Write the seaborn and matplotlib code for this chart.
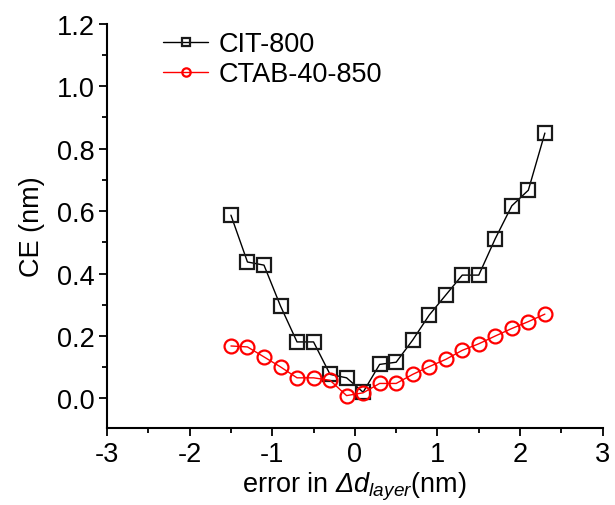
import numpy as np
import pandas as pd
import matplotlib
matplotlib.use("Agg")
import matplotlib.pyplot as plt
import seaborn as sns
from matplotlib.ticker import MultipleLocator

# Data
x_vals = [-1.5, -1.3, -1.1, -0.9, -0.7, -0.5, -0.3, -0.1, 0.1, 0.3,
          0.5, 0.7, 0.9, 1.1, 1.3, 1.5, 1.7, 1.9, 2.1, 2.3]
cit_800 = [0.587, 0.437, 0.427, 0.296, 0.181, 0.181, 0.077, 0.066, 0.020, 0.109,
           0.116, 0.187, 0.267, 0.331, 0.395, 0.395, 0.512, 0.617, 0.667, 0.850]
ctab_40_850 = [0.168, 0.165, 0.133, 0.101, 0.066, 0.066, 0.058, 0.009, 0.018, 0.048,
               0.048, 0.077, 0.102, 0.125, 0.154, 0.175, 0.200, 0.224, 0.246, 0.270]
series_names = ["CIT-800", "CTAB-40-850"]
x_ticks = [-3, -2, -1, 0, 1, 2, 3]
y_ticks = [0.0, 0.2, 0.4, 0.6, 0.8, 1.0, 1.2]

sns.set_style("ticks")
plt.rcParams['font.family'] = ['Liberation Sans', 'DejaVu Sans']
plt.rcParams['mathtext.fontset'] = 'custom'
plt.rcParams['mathtext.rm'] = 'Liberation Sans'
plt.rcParams['mathtext.it'] = 'Liberation Sans:italic'
plt.rcParams['mathtext.sf'] = 'Liberation Sans:italic'
plt.rcParams['text.color'] = 'black'
plt.rcParams['axes.labelcolor'] = 'black'
plt.rcParams['xtick.color'] = 'black'
plt.rcParams['ytick.color'] = 'black'

FS = 19.5

fig = plt.figure(figsize=(6.15, 5.06), dpi=100)
ax = fig.add_axes([0.174, 0.152, 0.806, 0.799])

df1 = pd.DataFrame({"x": x_vals, "y": cit_800})
df2 = pd.DataFrame({"x": x_vals, "y": ctab_40_850})

sns.lineplot(data=df1, x="x", y="y", ax=ax, sort=False, color="black", lw=1.0,
             marker="s", markersize=9.5, markerfacecolor="none",
             markeredgecolor="#1a1a1a", markeredgewidth=1.6, label=series_names[0])
sns.lineplot(data=df2, x="x", y="y", ax=ax, sort=False, color="red", lw=1.0,
             marker="o", markersize=10, markerfacecolor="none",
             markeredgecolor="red", markeredgewidth=1.6, label=series_names[1])

ax.set_xlim(-3, 3)
ax.set_ylim(-0.095, 1.2)
ax.set_xticks(x_ticks)
ax.set_xticklabels([str(t) for t in x_ticks])
ax.set_yticks(y_ticks)
ax.set_yticklabels([f"{t:.1f}" for t in y_ticks])
ax.xaxis.set_minor_locator(MultipleLocator(0.5))
ax.yaxis.set_minor_locator(MultipleLocator(0.1))
ax.tick_params(which='major', direction='out', length=6, width=1.3, labelsize=FS,
               colors='black', pad=3)
ax.tick_params(which='minor', direction='out', length=3.5, width=1.3, colors='black')

for s in ['top', 'right']:
    ax.spines[s].set_visible(False)
for s in ['left', 'bottom']:
    ax.spines[s].set_linewidth(1.5)
    ax.spines[s].set_color('black')

ax.set_xlabel("error in $\\mathsf{Δ}\\mathit{d}_{layer}$(nm)", fontsize=FS, labelpad=2)
ax.set_ylabel("CE (nm)", fontsize=FS, labelpad=8)

leg = ax.legend(loc='upper left', bbox_to_anchor=(163 / 615, 1 - 32 / 506),
                bbox_transform=fig.transFigure, frameon=False,
                fontsize=FS, markerscale=0.6, handlelength=1.67, handletextpad=0.4,
                labelspacing=0.15, borderaxespad=0, borderpad=0)

fig.savefig("out.png", dpi=100, facecolor="white")
